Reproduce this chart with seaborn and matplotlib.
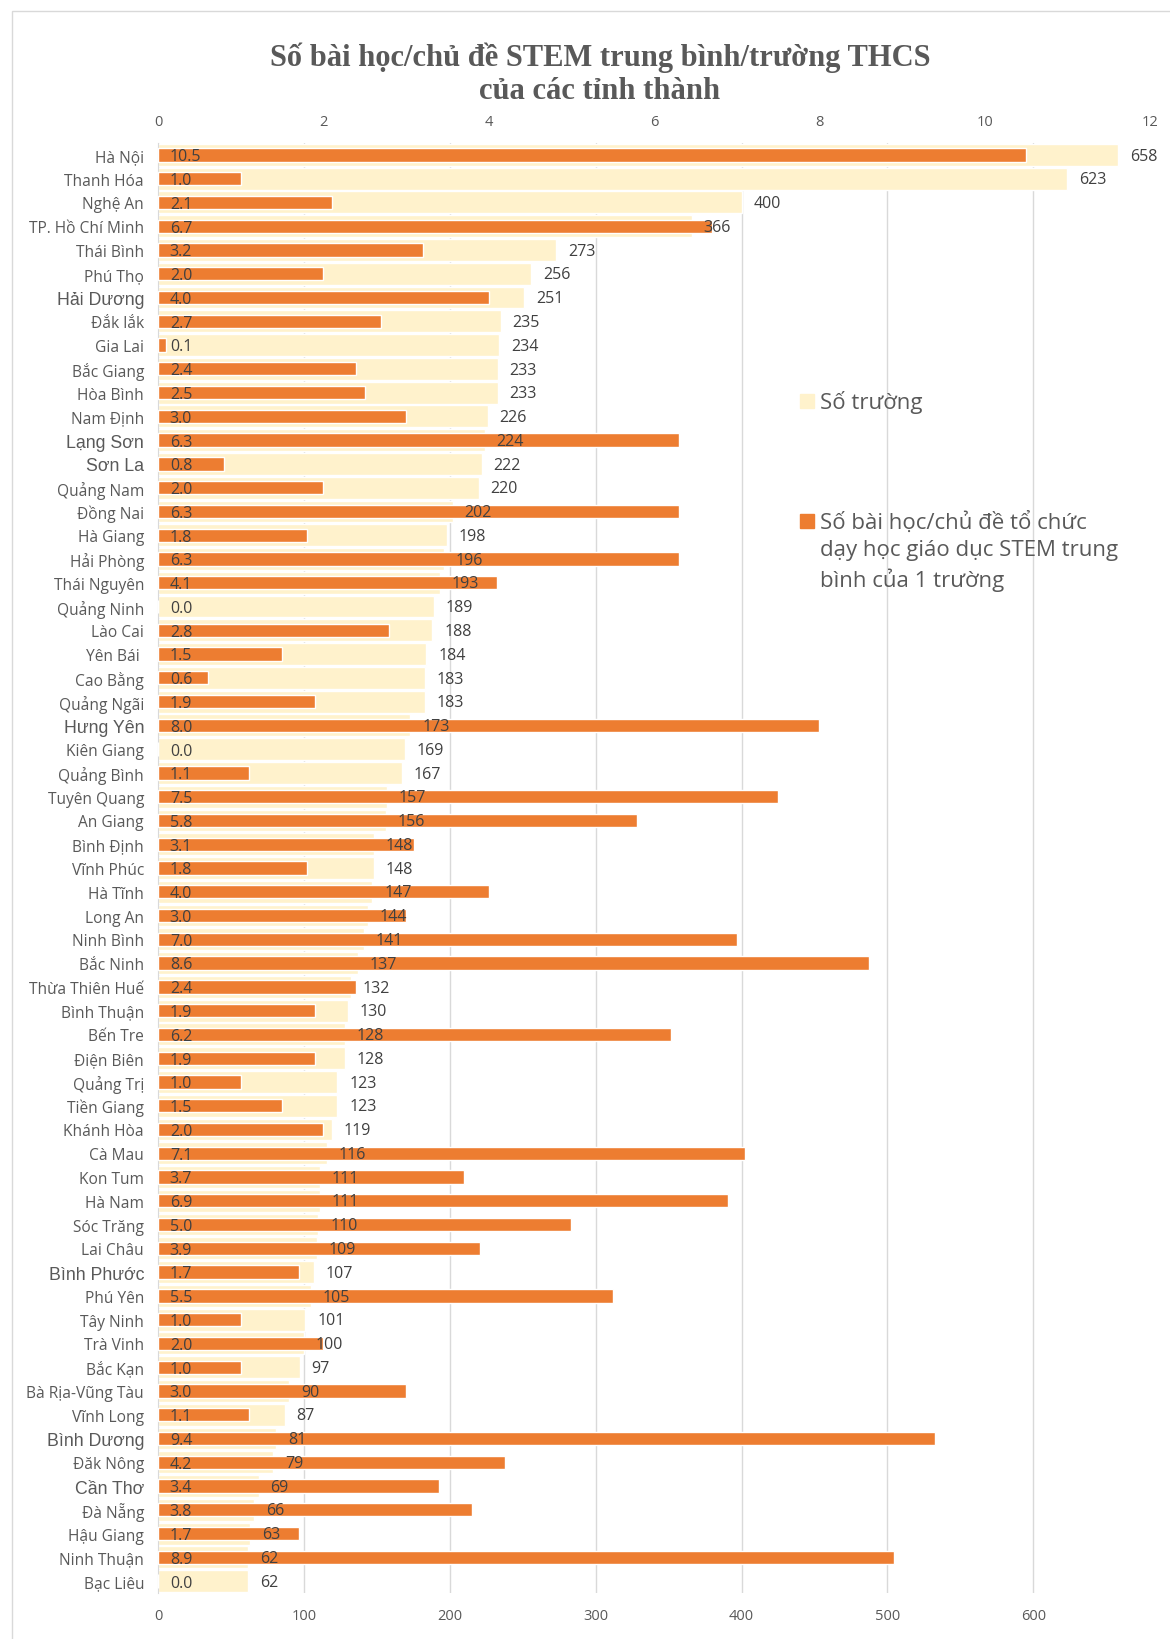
# Số bài học/chủ đề STEM trung bình/trường THCS theo tỉnh thành
import pandas as pd
import seaborn as sns
import matplotlib.pyplot as plt
from matplotlib.patches import Rectangle


provinces = [
    'Hà Nội', 'Thanh Hóa', 'Nghệ An', 'TP. Hồ Chí Minh', 'Thái Bình', 'Phú Thọ',
    'Hải Dương', 'Đắk lắk', 'Gia Lai', 'Bắc Giang', 'Hòa Bình', 'Nam Định',
    'Lạng Sơn', 'Sơn La', 'Quảng Nam', 'Đồng Nai', 'Hà Giang', 'Hải Phòng',
    'Thái Nguyên', 'Quảng Ninh', 'Lào Cai', 'Yên Bái ', 'Cao Bằng', 'Quảng Ngãi',
    'Hưng Yên', 'Kiên Giang', 'Quảng Bình', 'Tuyên Quang', 'An Giang', 'Bình Định',
    'Vĩnh Phúc', 'Hà Tĩnh', 'Long An', 'Ninh Bình', 'Bắc Ninh', 'Thừa Thiên Huế',
    'Bình Thuận', 'Bến Tre', 'Điện Biên', 'Quảng Trị', 'Tiền Giang', 'Khánh Hòa',
    'Cà Mau', 'Kon Tum', 'Hà Nam', 'Sóc Trăng', 'Lai Châu', 'Bình Phước',
    'Phú Yên', 'Tây Ninh', 'Trà Vinh', 'Bắc Kạn', 'Bà Rịa-Vũng Tàu', 'Vĩnh Long',
    'Bình Dương', 'Đăk Nông', 'Cần Thơ', 'Đà Nẵng', 'Hậu Giang', 'Ninh Thuận',
    'Bạc Liêu',
]
so_truong = [
    658, 623, 400, 366, 273, 256, 251, 235, 234, 233, 233, 226, 224, 222, 220,
    202, 198, 196, 193, 189, 188, 184, 183, 183, 173, 169, 167, 157, 156, 148,
    148, 147, 144, 141, 137, 132, 130, 128, 128, 123, 123, 119, 116, 111, 111,
    110, 109, 107, 105, 101, 100, 97, 90, 87, 81, 79, 69, 66, 63, 62, 62,
]
so_bai = [
    10.5, 1.0, 2.1, 6.7, 3.2, 2.0, 4.0, 2.7, 0.1, 2.4, 2.5, 3.0, 6.3, 0.8, 2.0,
    6.3, 1.8, 6.3, 4.1, 0.0, 2.8, 1.5, 0.6, 1.9, 8.0, 0.0, 1.1, 7.5, 5.8, 3.1,
    1.8, 4.0, 3.0, 7.0, 8.6, 2.4, 1.9, 6.2, 1.9, 1.0, 1.5, 2.0, 7.1, 3.7, 6.9,
    5.0, 3.9, 1.7, 5.5, 1.0, 2.0, 1.0, 3.0, 1.1, 9.4, 4.2, 3.4, 3.8, 1.7, 8.9,
    0.0,
]
# nhãn tỉnh gõ bằng font khác trong bản gốc
big_labels = ['Hải Dương', 'Lạng Sơn', 'Sơn La', 'Hưng Yên', 'Bình Phước',
              'Bình Dương', 'Cần Thơ']

cream = '#FFF2CC'
orange = '#ED7D31'
grey = '#595959'
dark = '#404040'

sns.set_style('white')
plt.rcParams['font.family'] = ['Open Sans', 'DejaVu Sans']

df = pd.DataFrame({'Tỉnh': provinces, 'Số trường': so_truong, 'Số bài': so_bai})

W, H = 1170, 1640
fig = plt.figure(figsize=(11.7, 16.4), dpi=100)
ax = fig.add_axes([158 / W, 46 / H, 992 / W, 1450 / H])

sns.barplot(data=df, x='Số trường', y='Tỉnh', orient='h', color=cream,
            saturation=1, width=0.92, ax=ax, zorder=2)
ax.set_xlim(0, 680)
ax.set_xticks(range(0, 700, 100))
ax.set_xlabel('')
ax.set_ylabel('')
ax.set_axisbelow(True)
ax.xaxis.grid(True, color='#d9d9d9', lw=1)
for s in ['top', 'right', 'bottom']:
    ax.spines[s].set_visible(False)
ax.spines['left'].set_color('#d9d9d9')
ax.tick_params(axis='x', length=0, pad=11, labelsize=10.5, labelcolor=grey)
ax.tick_params(axis='y', length=0, pad=10, labelsize=11.2, labelcolor=grey)
for lbl in ax.get_yticklabels():
    if lbl.get_text() in big_labels:
        lbl.set_fontfamily(['Liberation Sans', 'DejaVu Sans'])
        lbl.set_fontsize(12.8)

ax2 = ax.twiny()
sns.barplot(data=df, x='Số bài', y='Tỉnh', orient='h', color=orange,
            saturation=1, width=0.56, ax=ax2, zorder=3)
ax2.set_xlim(0, 12)
ax2.set_xticks(range(0, 13, 2))
ax2.set_xlabel('')
for s in ax2.spines.values():
    s.set_visible(False)
ax2.tick_params(axis='x', length=0, pad=10, labelsize=10.5, labelcolor=grey)

# nhãn số trường (cuối thanh kem) và số bài học (đầu thanh cam)
for i, v in enumerate(so_truong):
    ax2.annotate(str(v), xy=(v, i), xycoords=ax.transData, xytext=(8.5, -0.5),
                 textcoords='offset points', va='center', ha='left',
                 fontsize=11.5, color=dark, zorder=5)
for i, v in enumerate(so_bai):
    ax2.annotate(f'{v:.1f}', xy=(0, i), xytext=(8.5, -1),
                 textcoords='offset points', va='center', ha='left',
                 fontsize=11.5, color=dark, zorder=5)

# tiêu đề
fig.text(600 / W, 1 - 74 / H,
         'Số bài học/chủ đề STEM trung bình/trường THCS\ncủa các tỉnh thành',
         ha='center', va='center', fontsize=22, fontweight='bold', color=grey,
         family=['Liberation Serif', 'DejaVu Serif'], linespacing=1.2)

# chú giải
fig.add_artist(Rectangle((800 / W, 1 - 409 / H), 14 / W, 14 / H,
                         transform=fig.transFigure, color=cream))
fig.text(820 / W, 1 - 402 / H, 'Số trường', va='center', ha='left',
         fontsize=16, color=grey)
fig.add_artist(Rectangle((800 / W, 1 - 529 / H), 14 / W, 14 / H,
                         transform=fig.transFigure, color=orange))
fig.text(820 / W, 1 - 552 / H,
         'Số bài học/chủ đề tổ chức\ndạy học giáo dục STEM trung\nbình của 1 trường',
         va='center', ha='left', fontsize=16, color=grey, linespacing=1.4)

# khung viền
fig.add_artist(Rectangle((12 / W, -0.01), 1.0, 1 - 12 / H + 0.01,
                         transform=fig.transFigure, fill=False,
                         edgecolor='#d9d9d9', lw=1))

fig.savefig('out.png', dpi=100)
